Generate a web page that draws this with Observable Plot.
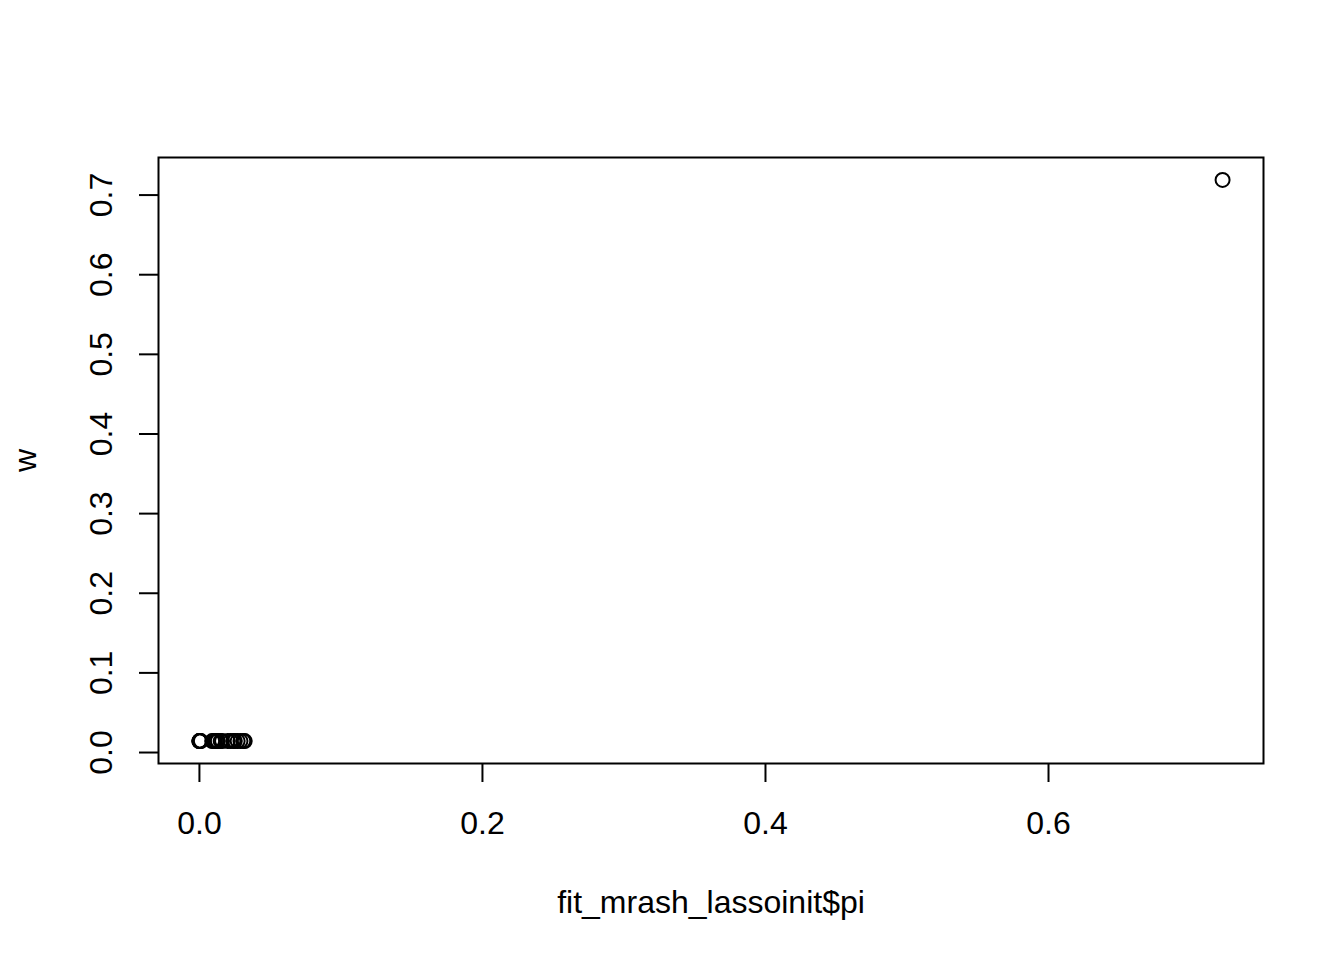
<!DOCTYPE html>
<html>
<head>
<meta charset="utf-8">
<script src="https://cdn.jsdelivr.net/npm/d3@7"></script>
<script src="https://cdn.jsdelivr.net/npm/@observablehq/plot@0.6"></script>
<style>
  html, body { margin: 0; padding: 0; background: #fff; }
  #chart svg { display: block; }
</style>
</head>
<body>
<div id="chart"></div>
<script>
// mixture weights: pi from the lasso init fit, w estimated
let pi = [0.723, 0, 0, 0, 0.0005, 0.001, 0.009, 0.010, 0.011, 0.012, 0.013,
          0.015, 0.016, 0.020, 0.022, 0.024, 0.025, 0.027, 0.029, 0.031, 0.032]
let w = [0.719, 0.0144, 0.0144, 0.0144, 0.0144, 0.0144, 0.0144, 0.0144, 0.0144, 0.0144, 0.0144,
         0.0144, 0.0144, 0.0144, 0.0144, 0.0144, 0.0144, 0.0144, 0.0144, 0.0144, 0.0144]
let xTicks = [0, 0.2, 0.4, 0.6]
let yTicks = [0, 0.1, 0.2, 0.3, 0.4, 0.5, 0.6, 0.7]
let xLabel = 'fit_mrash_lassoinit$pi'
let yLabel = 'w'

let data = pi.map((d, i) => ({pi: d, w: w[i]}))

// R style axis range: data range padded by 4% on each side
function rDomain(values) {
  let [lo, hi] = d3.extent(values)
  let pad = (hi - lo) * 0.04
  return [lo - pad, hi + pad]
}

let chart = Plot.plot({
  width: 1344,
  height: 960,
  marginLeft: 158,
  marginRight: 81,
  marginTop: 157,
  marginBottom: 197,
  style: {fontFamily: '"Liberation Sans", Arial, Helvetica, sans-serif', fontSize: '32px', background: '#fff', color: '#000'},
  x: {domain: rDomain(pi)},
  y: {domain: rDomain(w)},
  marks: [
    Plot.frame({stroke: 'black', strokeWidth: 2}),
    Plot.axisX({ticks: xTicks, tickFormat: '.1f', tickSize: 19, tickPadding: 29, strokeWidth: 2,
                fontSize: 32, label: null}),
    Plot.axisY({ticks: yTicks, tickFormat: '.1f', tickSize: 19, tickPadding: 28, strokeWidth: 2,
                fontSize: 32, tickRotate: -90, textAnchor: 'middle', lineAnchor: 'bottom', label: null}),
    Plot.dot(data, {x: 'pi', y: 'w', r: 7, stroke: 'black', strokeWidth: 2, fill: 'none'}),
    Plot.text([xLabel], {text: d => d, frameAnchor: 'bottom', lineAnchor: 'bottom', dy: 149, fontSize: 32}),
    Plot.text([yLabel], {text: d => d, frameAnchor: 'left', rotate: -90, textAnchor: 'middle',
                         lineAnchor: 'bottom', dx: -123, fontSize: 32})
  ]
})

d3.select('#chart').append(() => chart)
</script>
</body>
</html>
